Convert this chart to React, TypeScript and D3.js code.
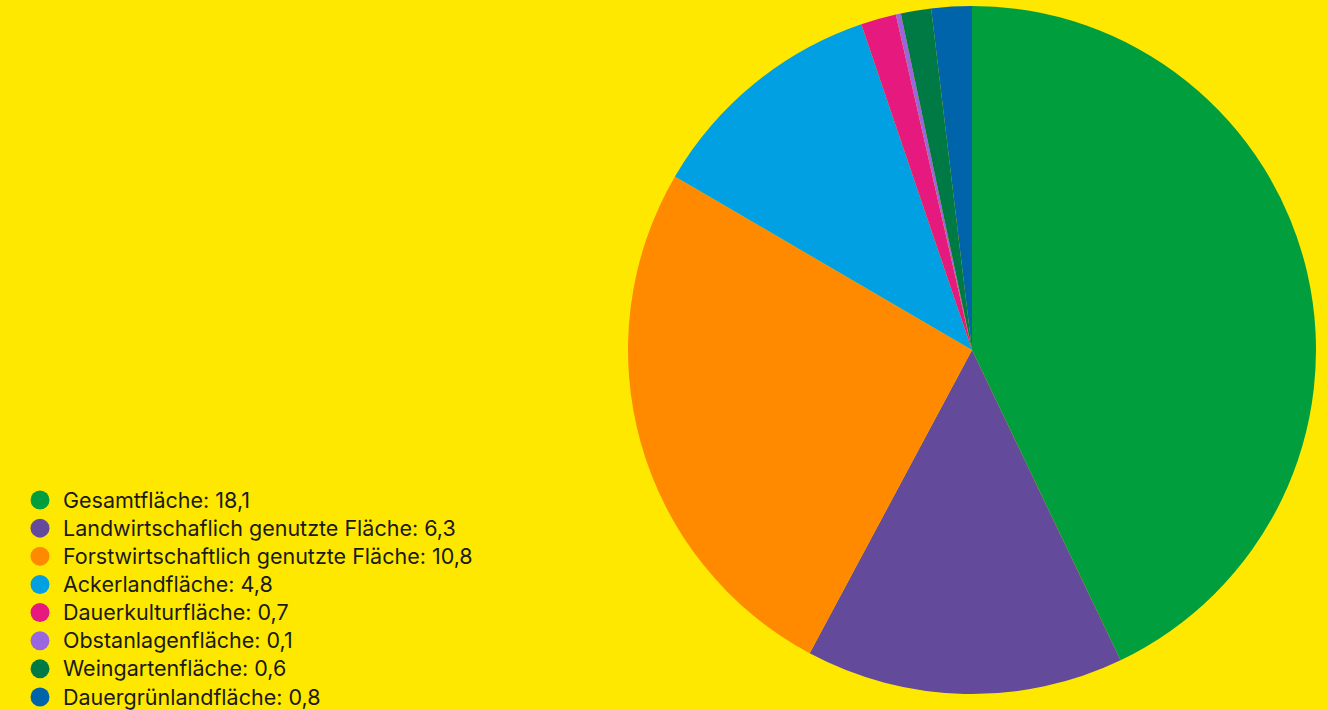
import React from "react";
import * as d3 from "d3";

const categories = [
  "Gesamtfläche",
  "Landwirtschaflich genutzte Fläche",
  "Forstwirtschaftlich genutzte Fläche",
  "Ackerlandfläche",
  "Dauerkulturfläche",
  "Obstanlagenfläche",
  "Weingartenfläche",
  "Dauergrünlandfläche",
];
const values = [18.1, 6.3, 10.8, 4.8, 0.7, 0.1, 0.6, 0.8];
const labels = ["18,1", "6,3", "10,8", "4,8", "0,7", "0,1", "0,6", "0,8"];
const colors = ["#009E3D", "#634A9A", "#FF8A00", "#00A0E3", "#E6197F", "#9966E0", "#007A45", "#0064AA"];

export default function App() {
  const W = 1328, H = 710;
  const cx = 972, cy = 350, r = 344;
  const pie = d3.pie<number>().sort(null).value((d) => d);
  const arcs = pie(values);
  const arc = d3.arc<d3.PieArcDatum<number>>().innerRadius(0).outerRadius(r);
  const legendY = d3.scaleLinear().domain([0, categories.length - 1]).range([500, 697]);
  return (
    <svg width={W} height={H} style={{ position: "absolute", left: 0, top: 0, display: "block" }}>
      <rect width={W} height={H} fill="#FFE800" />
      <g transform={`translate(${cx},${cy})`}>
        {arcs.map((a, i) => (
          <path key={i} d={arc(a) || ""} fill={colors[i]} />
        ))}
      </g>
      <g fontFamily="Inter, 'Liberation Sans', Arial, sans-serif" fontSize={21.5} fill="#1a1a1a">
        {categories.map((c, i) => (
          <g key={i} transform={`translate(0,${legendY(i)})`}>
            <circle cx={40} cy={0} r={9.5} fill={colors[i]} />
            <text x={63} y={0} dy="0.35em">{`${c}: ${labels[i]}`}</text>
          </g>
        ))}
      </g>
    </svg>
  );
}
